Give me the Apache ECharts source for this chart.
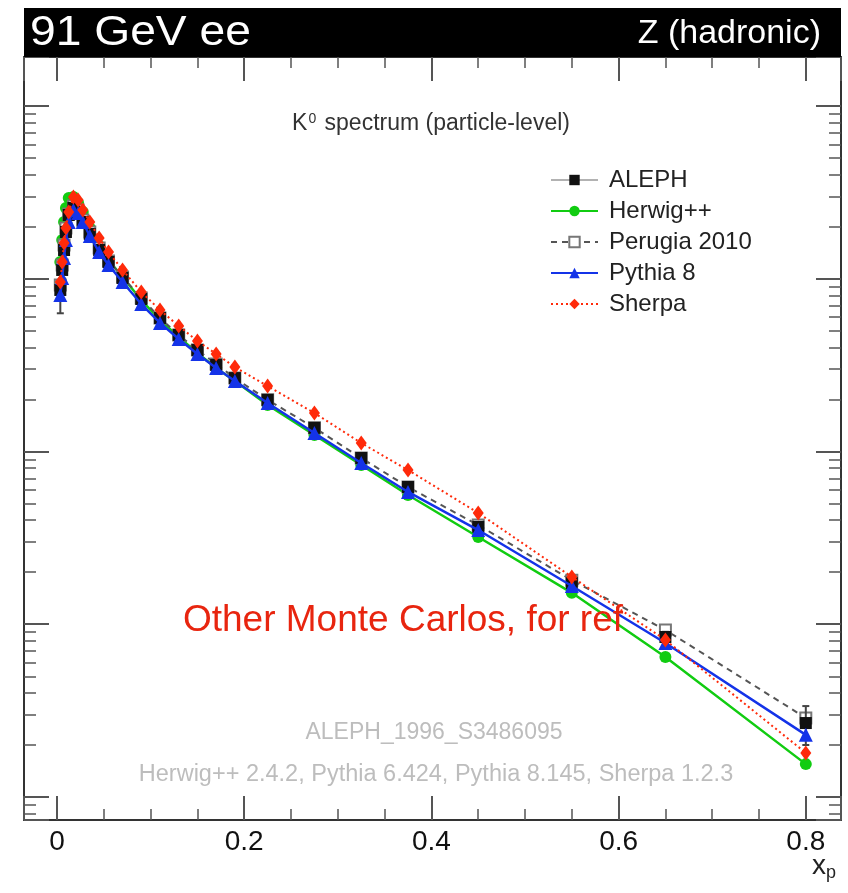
<!DOCTYPE html>
<html>
<head>
<meta charset="utf-8">
<script src="https://cdn.jsdelivr.net/npm/echarts@6/dist/echarts.min.js"></script>
<style>
  html, body { margin: 0; padding: 0; background: #fff; }
  #chart { width: 848px; height: 893px; }
</style>
</head>
<body>
<div id="chart"></div>
<script>
// K0 scaled-momentum spectrum at the Z pole: ALEPH data and MC predictions
const xp = [0.0035, 0.0055, 0.0075, 0.0095, 0.0125, 0.0175, 0.0225, 0.0275, 0.035, 0.045, 0.055, 0.07, 0.09, 0.11, 0.13, 0.15, 0.17, 0.19, 0.225, 0.275, 0.325, 0.375, 0.45, 0.55, 0.65, 0.8];
const aleph    = [8.61, 11.24, 14.67, 18.65, 23.39, 25.68, 24.35, 21.31, 18.16, 14.67, 12.50, 10.10, 7.63, 5.93, 4.73, 3.87, 3.17, 2.66, 1.99, 1.37, 0.917, 0.623, 0.366, 0.173, 0.0844, 0.0268];
const alephErr = [2.3, 1.2, 0.9, 0.8, 0.9, 0.9, 0.8, 0.7, 0.5, 0.4, 0.3, 0.25, 0.18, 0.14, 0.11, 0.09, 0.08, 0.07, 0.05, 0.04, 0.03, 0.022, 0.014, 0.008, 0.006, 0.0068];
const herwig   = [12.50, 16.76, 21.31, 25.68, 29.34, 29.73, 27.45, 24.35, 19.67, 15.47, 12.84, 10.23, 7.53, 5.77, 4.60, 3.72, 3.04, 2.56, 1.86, 1.246, 0.835, 0.560, 0.320, 0.152, 0.0646, 0.0155];
const perugia  = [9.20, 12.01, 15.68, 19.67, 23.70, 26.37, 25.00, 21.88, 18.65, 15.07, 12.67, 10.23, 7.74, 5.93, 4.73, 3.87, 3.21, 2.66, 1.99, 1.37, 0.917, 0.623, 0.375, 0.180, 0.0926, 0.0287];
const pythia8  = [8.05, 10.10, 13.19, 16.76, 21.31, 25.00, 24.02, 21.31, 17.68, 14.28, 12.01, 9.58, 7.14, 5.55, 4.48, 3.67, 3.04, 2.56, 1.91, 1.28, 0.858, 0.583, 0.351, 0.1665, 0.0779, 0.0229];
const sherpa   = [9.58, 12.50, 16.10, 19.67, 24.35, 29.73, 28.57, 25.00, 21.31, 17.21, 14.28, 11.24, 8.38, 6.59, 5.33, 4.36, 3.67, 3.08, 2.39, 1.67, 1.12, 0.781, 0.441, 0.188, 0.0811, 0.0180];

const seriesNames = ['ALEPH', 'Herwig++', 'Perugia 2010', 'Pythia 8', 'Sherpa'];

// axis ranges
const xRange = [-0.0353, 0.8376];
const yRange = [0.00736, 192.1];

const FONT = '"Liberation Sans", Arial, Helvetica, sans-serif';
const AXIS_COLOR = '#333';

const pairs = ys => xp.map((x, i) => [x, ys[i]]);

function xAxisDef(pos) {
  return {
    type: 'value', position: pos, min: xRange[0], max: xRange[1], splitNumber: 4,
    axisLine: { show: true, onZero: false, lineStyle: { color: AXIS_COLOR, width: 2 } },
    axisTick: { show: true, inside: true, length: 24, lineStyle: { color: '#555', width: 2 } },
    minorTick: { show: true, splitNumber: 4, length: 11, lineStyle: { color: '#555', width: 1.5 } },
    splitLine: { show: false },
    axisLabel: {
      show: pos === 'bottom', showMinLabel: false, showMaxLabel: false,
      fontSize: 28, color: '#111', fontFamily: FONT, margin: 8,
      formatter: v => {
        const r = Math.round(v * 10) / 10;
        return Math.abs(v - r) < 1e-6 ? String(r) : '';
      }
    }
  };
}

function yAxisDef(pos) {
  return {
    type: 'log', logBase: 10, position: pos, min: yRange[0], max: yRange[1],
    axisLine: { show: true, onZero: false, lineStyle: { color: AXIS_COLOR, width: 2 } },
    axisTick: { show: true, inside: true, length: 25, lineStyle: { color: '#555', width: 2 } },
    minorTick: { show: true, splitNumber: 9, length: 12, lineStyle: { color: '#555', width: 1.5 } },
    splitLine: { show: false },
    axisLabel: { show: false }
  };
}

const chart = echarts.init(document.getElementById('chart'), null, { renderer: 'canvas' });

chart.setOption({
  animation: false,
  backgroundColor: '#fff',
  grid: { left: 24, right: 7, top: 57, bottom: 73, containLabel: false },
  xAxis: [xAxisDef('bottom'), xAxisDef('top')],
  yAxis: [yAxisDef('left'), yAxisDef('right')],
  legend: {
    orient: 'vertical', left: 550, top: 168, padding: 0,
    itemWidth: 47, itemHeight: 13, itemGap: 7,
    textStyle: { fontSize: 24, color: '#222', fontFamily: FONT, lineHeight: 24, padding: [0, 0, 0, 6] },
    data: [
      { name: 'ALEPH', lineStyle: { color: '#666', width: 1.2, opacity: 1 } },
      { name: 'Herwig++' },
      { name: 'Perugia 2010' },
      { name: 'Pythia 8' },
      { name: 'Sherpa' }
    ]
  },
  series: [
    {
      name: seriesNames[1], type: 'line', data: pairs(herwig),
      symbol: 'circle', symbolSize: 12, color: '#11cc11',
      lineStyle: { width: 2.5, color: '#11cc11' }, z: 2
    },
    {
      name: seriesNames[2], type: 'line', data: pairs(perugia),
      symbol: 'emptyRect', symbolSize: 11, color: '#777',
      itemStyle: { color: '#777', borderColor: '#777', borderWidth: 1.5 },
      lineStyle: { width: 2, type: [6, 5], color: '#555' }, z: 3
    },
    {
      // vertical uncertainty bars of the ALEPH measurement
      name: 'ALEPH uncertainty', type: 'custom', z: 4,
      data: xp.map((x, i) => [x, aleph[i], alephErr[i]]),
      renderItem: (params, api) => {
        const x = api.value(0), y = api.value(1), e = api.value(2);
        const hi = api.coord([x, y + e]);
        const lo = api.coord([x, y - e]);
        const st = { stroke: '#444', lineWidth: 2 };
        return {
          type: 'group',
          children: [
            { type: 'line', shape: { x1: hi[0], y1: hi[1], x2: lo[0], y2: lo[1] }, style: st },
            { type: 'line', shape: { x1: hi[0] - 3.5, y1: hi[1], x2: hi[0] + 3.5, y2: hi[1] }, style: st },
            { type: 'line', shape: { x1: lo[0] - 3.5, y1: lo[1], x2: lo[0] + 3.5, y2: lo[1] }, style: st }
          ]
        };
      },
      encode: { x: 0, y: 1 }, silent: true
    },
    {
      name: seriesNames[0], type: 'line', data: pairs(aleph),
      symbol: 'rect', symbolSize: 12, color: '#111',
      lineStyle: { width: 0, opacity: 0, color: '#666' }, z: 5
    },
    {
      name: seriesNames[3], type: 'line', data: pairs(pythia8),
      symbol: 'triangle', symbolSize: 14, color: '#1433e8',
      lineStyle: { width: 2.5, color: '#1433e8' }, z: 6
    },
    {
      name: seriesNames[4], type: 'line', data: pairs(sherpa),
      symbol: 'diamond', symbolSize: [11, 15], color: '#ff2a0a',
      lineStyle: { width: 2, type: [2, 3], color: '#ff2a0a' }, z: 7
    }
  ],
  graphic: [
    { type: 'rect', shape: { x: 24, y: 8, width: 817, height: 49 }, style: { fill: '#000' }, z: 100 },
    { type: 'text', x: 30, y: 33, z: 101, scaleX: 1.1,
      style: { text: '91 GeV ee', fill: '#fff', font: '42px ' + FONT, textAlign: 'left', textVerticalAlign: 'middle', verticalAlign: 'middle' } },
    { type: 'text', x: 821, y: 34, z: 101,
      style: { text: 'Z (hadronic)', fill: '#fff', font: '34px ' + FONT, textAlign: 'right', textVerticalAlign: 'middle', verticalAlign: 'middle' } },
    { type: 'text', x: 431, y: 124, z: 101,
      style: {
        text: 'K{sup|0} spectrum (particle-level)', fill: '#333', font: '23px ' + FONT,
        align: 'center', verticalAlign: 'middle', textAlign: 'center', textVerticalAlign: 'middle',
        rich: { sup: { fontSize: 14, verticalAlign: 'top', padding: [0, 2, 10, 1], fill: '#333', fontFamily: FONT } }
      } },
    { type: 'text', x: 403, y: 621, z: 101,
      style: { text: 'Other Monte Carlos, for ref', fill: '#e8250f', font: '37px ' + FONT, textAlign: 'center', textVerticalAlign: 'middle', align: 'center', verticalAlign: 'middle' } },
    { type: 'text', x: 434, y: 733, z: 101,
      style: { text: 'ALEPH_1996_S3486095', fill: '#bdbdbd', font: '23px ' + FONT, textAlign: 'center', textVerticalAlign: 'middle', align: 'center', verticalAlign: 'middle' } },
    { type: 'text', x: 436, y: 775, z: 101,
      style: { text: 'Herwig++ 2.4.2, Pythia 6.424, Pythia 8.145, Sherpa 1.2.3', fill: '#bdbdbd', font: '23.5px ' + FONT, textAlign: 'center', textVerticalAlign: 'middle', align: 'center', verticalAlign: 'middle' } },
    { type: 'text', x: 836, y: 866, z: 101,
      style: {
        text: 'x{sub|p}', fill: '#222', font: '28px ' + FONT, textAlign: 'right', align: 'right', verticalAlign: 'middle', textVerticalAlign: 'middle',
        rich: { sub: { fontSize: 18, padding: [14, 0, 0, 0], fill: '#222', fontFamily: FONT } }
      } }
  ]
});
</script>
</body>
</html>
